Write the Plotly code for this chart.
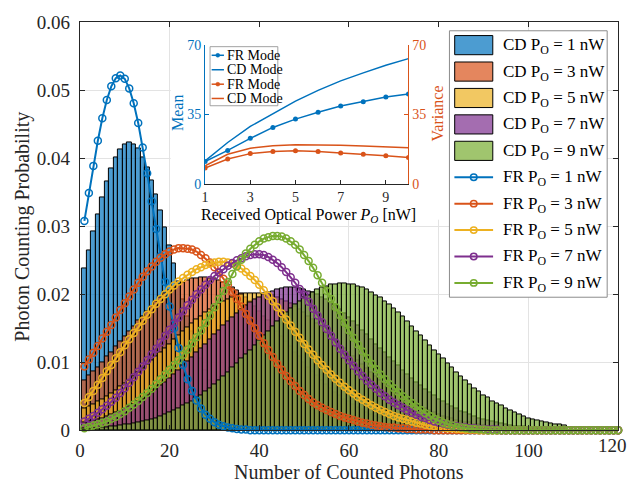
import plotly.graph_objects as go

W, H = 629, 493
FONT = "'Liberation Serif', 'Times New Roman', Times, serif"

# ---------------- data ----------------
counts = list(range(1, 121))

cd_p1 = [0.0238, 0.0265, 0.0292, 0.0318, 0.0343, 0.0366, 0.0385, 0.0401, 0.0413, 0.0420,
         0.0423, 0.0421, 0.0414, 0.0402, 0.0387, 0.0368, 0.0347, 0.0323, 0.0299, 0.0272,
         0.0245, 0.0219, 0.0193, 0.0168, 0.0145, 0.0124, 0.0105, 0.0088, 0.0073, 0.0059,
         0.0048, 0.0038, 0.0030, 0.0024, 0.0018, 0.0014, 0.0011, 0.0008, 0.0006, 0.0004,
         0.0003, 0.0002, 0.0001, 0.0001]
cd_p3 = [0.0074, 0.0080, 0.0087, 0.0093, 0.0100, 0.0108, 0.0115, 0.0123, 0.0130, 0.0138,
         0.0146, 0.0153, 0.0161, 0.0168, 0.0175, 0.0182, 0.0189, 0.0195, 0.0201, 0.0206,
         0.0210, 0.0214, 0.0218, 0.0221, 0.0223, 0.0224, 0.0225, 0.0225, 0.0224, 0.0223,
         0.0221, 0.0218, 0.0214, 0.0210, 0.0206, 0.0201, 0.0195, 0.0189, 0.0182, 0.0175,
         0.0168, 0.0161, 0.0153, 0.0146, 0.0138, 0.0130, 0.0123, 0.0115, 0.0108, 0.0100,
         0.0093, 0.0087, 0.0080, 0.0074, 0.0068, 0.0062, 0.0056, 0.0051, 0.0046, 0.0042,
         0.0038, 0.0034, 0.0030, 0.0027, 0.0024, 0.0021, 0.0019, 0.0017, 0.0014, 0.0013,
         0.0011, 0.0010, 0.0008, 0.0007, 0.0006, 0.0005, 0.0004, 0.0004, 0.0003, 0.0003,
         0.0002, 0.0002, 0.0001, 0.0001, 0.0001]
cd_p5 = [0.0032, 0.0035, 0.0038, 0.0042, 0.0046, 0.0050, 0.0054, 0.0059, 0.0064, 0.0069,
         0.0074, 0.0079, 0.0085, 0.0091, 0.0097, 0.0103, 0.0109, 0.0115, 0.0121, 0.0127,
         0.0133, 0.0139, 0.0145, 0.0151, 0.0157, 0.0163, 0.0168, 0.0173, 0.0178, 0.0182,
         0.0186, 0.0190, 0.0193, 0.0196, 0.0198, 0.0200, 0.0201, 0.0202, 0.0202, 0.0202,
         0.0201, 0.0200, 0.0198, 0.0196, 0.0193, 0.0190, 0.0186, 0.0182, 0.0178, 0.0173,
         0.0168, 0.0163, 0.0157, 0.0151, 0.0145, 0.0139, 0.0133, 0.0127, 0.0121, 0.0115,
         0.0109, 0.0103, 0.0097, 0.0091, 0.0085, 0.0079, 0.0074, 0.0069, 0.0064, 0.0059,
         0.0054, 0.0050, 0.0046, 0.0042, 0.0038, 0.0035, 0.0032, 0.0029, 0.0026, 0.0023,
         0.0021, 0.0019, 0.0017, 0.0015, 0.0013, 0.0012, 0.0011, 0.0009, 0.0008, 0.0007,
         0.0006, 0.0005, 0.0005, 0.0004, 0.0004, 0.0003, 0.0003, 0.0002, 0.0002, 0.0002,
         0.0001, 0.0001, 0.0001, 0.0001]
cd_p7 = [0.0011, 0.0013, 0.0014, 0.0016, 0.0018, 0.0020, 0.0023, 0.0026, 0.0028, 0.0032,
         0.0035, 0.0038, 0.0042, 0.0046, 0.0051, 0.0055, 0.0060, 0.0066, 0.0071, 0.0076,
         0.0082, 0.0088, 0.0095, 0.0101, 0.0107, 0.0114, 0.0121, 0.0127, 0.0134, 0.0141,
         0.0147, 0.0154, 0.0160, 0.0166, 0.0172, 0.0178, 0.0183, 0.0188, 0.0192, 0.0196,
         0.0200, 0.0203, 0.0205, 0.0207, 0.0209, 0.0210, 0.0210, 0.0210, 0.0209, 0.0207,
         0.0205, 0.0203, 0.0200, 0.0196, 0.0192, 0.0188, 0.0183, 0.0178, 0.0172, 0.0166,
         0.0160, 0.0154, 0.0147, 0.0141, 0.0134, 0.0127, 0.0121, 0.0114, 0.0107, 0.0101,
         0.0095, 0.0088, 0.0082, 0.0076, 0.0071, 0.0066, 0.0060, 0.0055, 0.0051, 0.0046,
         0.0042, 0.0038, 0.0035, 0.0032, 0.0028, 0.0026, 0.0023, 0.0020, 0.0018, 0.0016,
         0.0014, 0.0013, 0.0011, 0.0010, 0.0009, 0.0007, 0.0006, 0.0005, 0.0005, 0.0004,
         0.0003, 0.0003, 0.0002, 0.0002, 0.0002, 0.0001, 0.0001, 0.0001]
cd_p9 = [0.0002, 0.0002, 0.0003, 0.0003, 0.0004, 0.0004, 0.0005, 0.0006, 0.0007, 0.0008,
         0.0009, 0.0010, 0.0011, 0.0013, 0.0014, 0.0016, 0.0018, 0.0021, 0.0023, 0.0026,
         0.0029, 0.0032, 0.0036, 0.0039, 0.0043, 0.0048, 0.0052, 0.0057, 0.0062, 0.0068,
         0.0073, 0.0079, 0.0085, 0.0092, 0.0098, 0.0105, 0.0112, 0.0118, 0.0125, 0.0132,
         0.0139, 0.0146, 0.0153, 0.0160, 0.0167, 0.0173, 0.0179, 0.0185, 0.0190, 0.0195,
         0.0199, 0.0203, 0.0207, 0.0210, 0.0212, 0.0214, 0.0215, 0.0216, 0.0216, 0.0215,
         0.0214, 0.0212, 0.0210, 0.0207, 0.0203, 0.0199, 0.0195, 0.0190, 0.0185, 0.0179,
         0.0173, 0.0167, 0.0160, 0.0153, 0.0146, 0.0139, 0.0132, 0.0125, 0.0118, 0.0112,
         0.0105, 0.0098, 0.0092, 0.0085, 0.0079, 0.0073, 0.0068, 0.0062, 0.0057, 0.0052,
         0.0048, 0.0043, 0.0039, 0.0036, 0.0032, 0.0029, 0.0026, 0.0023, 0.0021, 0.0018,
         0.0016, 0.0014, 0.0013, 0.0011, 0.0010, 0.0009, 0.0008, 0.0007]

fr_p1 = [0.0308, 0.0349, 0.0389, 0.0426, 0.0459, 0.0486, 0.0506, 0.0518, 0.0522, 0.0517,
         0.0503, 0.0481, 0.0452, 0.0416, 0.0378, 0.0337, 0.0296, 0.0256, 0.0218, 0.0182,
         0.0150, 0.0121, 0.0096, 0.0075, 0.0058, 0.0044, 0.0032, 0.0023, 0.0017, 0.0012,
         0.0008, 0.0006, 0.0004, 0.0003, 0.0002, 0.0001, 0.0001]
fr_p3 = [0.0094, 0.0104, 0.0114, 0.0124, 0.0135, 0.0145, 0.0155, 0.0166, 0.0177, 0.0187,
         0.0197, 0.0207, 0.0217, 0.0226, 0.0234, 0.0241, 0.0248, 0.0254, 0.0259, 0.0263,
         0.0266, 0.0268, 0.0268, 0.0267, 0.0266, 0.0263, 0.0258, 0.0253, 0.0247, 0.0240,
         0.0232, 0.0223, 0.0214, 0.0203, 0.0193, 0.0182, 0.0171, 0.0161, 0.0150, 0.0139,
         0.0128, 0.0118, 0.0108, 0.0098, 0.0089, 0.0080, 0.0072, 0.0065, 0.0058, 0.0052,
         0.0046, 0.0041, 0.0037, 0.0033, 0.0030, 0.0027, 0.0024, 0.0021, 0.0019, 0.0017,
         0.0015, 0.0013, 0.0011, 0.0010, 0.0008, 0.0007, 0.0006, 0.0005, 0.0004, 0.0004,
         0.0003, 0.0003, 0.0002, 0.0002, 0.0001, 0.0001, 0.0001, 0.0001]
fr_p5 = [0.0040, 0.0049, 0.0058, 0.0067, 0.0077, 0.0087, 0.0096, 0.0106, 0.0115, 0.0125,
         0.0134, 0.0143, 0.0152, 0.0161, 0.0170, 0.0178, 0.0186, 0.0193, 0.0200, 0.0207,
         0.0213, 0.0219, 0.0224, 0.0229, 0.0233, 0.0237, 0.0240, 0.0243, 0.0245, 0.0247,
         0.0248, 0.0248, 0.0247, 0.0245, 0.0242, 0.0238, 0.0233, 0.0227, 0.0221, 0.0214,
         0.0206, 0.0198, 0.0190, 0.0181, 0.0172, 0.0163, 0.0154, 0.0145, 0.0136, 0.0127,
         0.0119, 0.0111, 0.0103, 0.0096, 0.0089, 0.0082, 0.0076, 0.0070, 0.0064, 0.0059,
         0.0054, 0.0049, 0.0045, 0.0041, 0.0037, 0.0033, 0.0030, 0.0027, 0.0024, 0.0021,
         0.0019, 0.0017, 0.0015, 0.0013, 0.0011, 0.0010, 0.0008, 0.0007, 0.0006, 0.0005,
         0.0004, 0.0003, 0.0003, 0.0002, 0.0002, 0.0001, 0.0001, 0.0001]
fr_p7 = [0.0013, 0.0017, 0.0021, 0.0026, 0.0031, 0.0036, 0.0042, 0.0048, 0.0055, 0.0062,
         0.0070, 0.0078, 0.0086, 0.0094, 0.0103, 0.0112, 0.0120, 0.0129, 0.0139, 0.0148,
         0.0157, 0.0166, 0.0175, 0.0184, 0.0192, 0.0200, 0.0207, 0.0214, 0.0221, 0.0227,
         0.0232, 0.0237, 0.0242, 0.0246, 0.0250, 0.0253, 0.0256, 0.0258, 0.0259, 0.0259,
         0.0258, 0.0255, 0.0251, 0.0246, 0.0240, 0.0233, 0.0225, 0.0217, 0.0208, 0.0199,
         0.0189, 0.0179, 0.0169, 0.0159, 0.0149, 0.0139, 0.0129, 0.0120, 0.0111, 0.0103,
         0.0095, 0.0087, 0.0080, 0.0073, 0.0067, 0.0061, 0.0055, 0.0050, 0.0045, 0.0041,
         0.0037, 0.0033, 0.0029, 0.0026, 0.0023, 0.0020, 0.0018, 0.0015, 0.0013, 0.0011,
         0.0010, 0.0008, 0.0007, 0.0006, 0.0005, 0.0004, 0.0003, 0.0003, 0.0002, 0.0002,
         0.0001, 0.0001, 0.0001]
fr_p9 = [0.0003, 0.0005, 0.0007, 0.0009, 0.0011, 0.0013, 0.0017, 0.0020, 0.0024, 0.0028,
         0.0033, 0.0038, 0.0043, 0.0049, 0.0055, 0.0061, 0.0068, 0.0075, 0.0082, 0.0089,
         0.0096, 0.0103, 0.0111, 0.0119, 0.0128, 0.0137, 0.0147, 0.0158, 0.0169, 0.0181,
         0.0193, 0.0205, 0.0218, 0.0230, 0.0241, 0.0251, 0.0260, 0.0267, 0.0273, 0.0278,
         0.0282, 0.0284, 0.0286, 0.0286, 0.0285, 0.0282, 0.0278, 0.0273, 0.0266, 0.0258,
         0.0249, 0.0239, 0.0228, 0.0217, 0.0205, 0.0193, 0.0181, 0.0169, 0.0158, 0.0147,
         0.0136, 0.0126, 0.0116, 0.0106, 0.0098, 0.0090, 0.0082, 0.0075, 0.0068, 0.0062,
         0.0056, 0.0050, 0.0045, 0.0040, 0.0035, 0.0030, 0.0025, 0.0021, 0.0017, 0.0014,
         0.0011, 0.0009, 0.0007, 0.0005, 0.0004, 0.0003, 0.0002, 0.0002, 0.0001, 0.0001]

inset_power = [1, 2, 3, 4, 5, 6, 7, 8, 9, 10]
fr_mean = [11.3, 16.9, 23.0, 28.5, 32.7, 36.2, 39.3, 41.5, 43.8, 45.4]
cd_mean = [11.6, 20.9, 29.0, 35.4, 41.8, 47.2, 52.0, 56.0, 59.9, 63.2]
fr_var = [8.0, 12.6, 15.3, 16.4, 16.7, 16.4, 15.6, 15.0, 14.2, 13.4]
cd_var = [9.2, 15.0, 18.0, 19.3, 19.8, 19.8, 19.5, 19.2, 18.7, 18.2]

power_labels = ["1", "3", "5", "7", "9"]
x_ticks = [0, 20, 40, 60, 80, 100, 120]
x_ticktext = ["0", "20", "40", "60", "80", "100", ""]
last_x_label = "120"
y_ticks = [0, 0.01, 0.02, 0.03, 0.04, 0.05, 0.06]
y_ticktext = ["0", "0.01", "0.02", "0.03", "0.04", "0.05", "0.06"]
inset_x_ticks = [1, 3, 5, 7, 9]
inset_y_ticks = [0, 35, 70]

cd_series = [cd_p1, cd_p3, cd_p5, cd_p7, cd_p9]
fr_series = [fr_p1, fr_p3, fr_p5, fr_p7, fr_p9]

# ---------------- styling ----------------
line_colors = ["#0072BD", "#D95319", "#EDB120", "#7E2F8E", "#77AC30"]
bar_colors = ["rgba(0,114,189,0.7)", "rgba(217,83,25,0.7)", "rgba(237,177,32,0.7)",
              "rgba(126,47,142,0.7)", "rgba(119,172,48,0.7)"]
AX = "#262626"
BLUE, ORANGE = "#0072BD", "#D95319"


def X(px):
    return px / W


def Y(py):
    return 1 - py / H


def padded(vals):
    return vals + [0.0] * (len(counts) - len(vals))


fig = go.Figure()

for vals, col in zip(cd_series, bar_colors):
    fig.add_trace(go.Bar(x=counts[:len(vals)], y=vals, width=1,
                         marker=dict(color=col, line=dict(color="black", width=1)),
                         xaxis="x", yaxis="y", showlegend=False, hoverinfo="skip"))

for vals, col in zip(fr_series, line_colors):
    fig.add_trace(go.Scatter(x=counts, y=padded(vals), mode="lines+markers",
                             line=dict(color=col, width=2),
                             marker=dict(symbol="circle-open", size=7, color=col,
                                         line=dict(width=1.5)),
                             cliponaxis=False, xaxis="x", yaxis="y",
                             showlegend=False, hoverinfo="skip"))

# white cover panel behind the inset
fig.add_trace(go.Scatter(x=[None], y=[None], xaxis="x2", yaxis="y2",
                         showlegend=False, hoverinfo="skip"))

# inset
fig.add_trace(go.Scatter(x=inset_power, y=fr_mean, mode="lines+markers",
                         line=dict(color=BLUE, width=1.5), marker=dict(size=5, color=BLUE),
                         xaxis="x3", yaxis="y3", showlegend=False, hoverinfo="skip"))
fig.add_trace(go.Scatter(x=inset_power, y=cd_mean, mode="lines",
                         line=dict(color=BLUE, width=1.5),
                         xaxis="x3", yaxis="y3", showlegend=False, hoverinfo="skip"))
fig.add_trace(go.Scatter(x=inset_power, y=fr_var, mode="lines+markers",
                         line=dict(color=ORANGE, width=1.5), marker=dict(size=5, color=ORANGE),
                         xaxis="x3", yaxis="y4", showlegend=False, hoverinfo="skip"))
fig.add_trace(go.Scatter(x=inset_power, y=cd_var, mode="lines",
                         line=dict(color=ORANGE, width=1.5),
                         xaxis="x3", yaxis="y4", showlegend=False, hoverinfo="skip"))

tickfont = dict(family=FONT, size=19, color=AX)

fig.update_layout(
    width=W, height=H, margin=dict(l=0, r=0, t=0, b=0),
    paper_bgcolor="white", plot_bgcolor="white",
    barmode="overlay", bargap=0, showlegend=False,
    font=dict(family=FONT, color=AX),
    xaxis=dict(domain=[X(75.5), X(618)], anchor="y", range=[0, 120], tickvals=x_ticks,
               ticktext=x_ticktext,
               ticks="inside", ticklen=5, tickcolor=AX, showline=True, linecolor=AX,
               linewidth=1, mirror="ticks", showgrid=True, gridcolor="#E3E3E3",
               zeroline=False, tickfont=tickfont, ticklabelstandoff=3),
    yaxis=dict(domain=[Y(439), Y(13)], anchor="x", range=[0, 0.06], tickvals=y_ticks,
               ticktext=y_ticktext, ticks="inside", ticklen=5, tickcolor=AX, showline=True,
               linecolor=AX, linewidth=1, mirror="ticks", showgrid=True,
               gridcolor="#E3E3E3", zeroline=False, tickfont=tickfont, ticklabelstandoff=5),
    xaxis2=dict(domain=[X(167), X(448)], anchor="y2", range=[0, 1], visible=False),
    yaxis2=dict(domain=[Y(219), Y(18)], anchor="x2", range=[0, 1], visible=False),
    xaxis3=dict(domain=[X(201.7), X(406.7)], anchor="y3", range=[1, 10],
                tickvals=inset_x_ticks, ticktext=power_labels, ticks="inside", ticklen=4,
                tickcolor=AX, showline=True, linecolor=AX, linewidth=1, showgrid=False,
                zeroline=False, tickfont=dict(family=FONT, size=14, color=AX),
                ticklabelstandoff=0),
    yaxis3=dict(domain=[Y(181.7), Y(36.7)], anchor="x3", range=[0, 70],
                tickvals=inset_y_ticks, ticks="inside", ticklen=4, tickcolor=BLUE,
                showline=True, linecolor=BLUE, linewidth=1, showgrid=False, zeroline=False,
                tickfont=dict(family=FONT, size=14, color=BLUE)),
    yaxis4=dict(overlaying="y3", side="right", anchor="x3", range=[0, 70],
                tickvals=inset_y_ticks, ticks="inside", ticklen=4, tickcolor=ORANGE,
                showline=True, linecolor=ORANGE, linewidth=1, showgrid=False, zeroline=False,
                tickfont=dict(family=FONT, size=14, color=ORANGE)),
)

shapes = []
annotations = []

# last x tick label (kept inside the page)
annotations.append(dict(x=X(629), y=Y(455), xref="paper", yref="paper", text=last_x_label,
                        showarrow=False, font=tickfont, xanchor="right", yanchor="middle"))

# axis titles
annotations.append(dict(x=X(346.7), y=Y(482.5), xref="paper", yref="paper",
                        text="Number of Counted Photons", showarrow=False,
                        font=dict(family=FONT, size=20, color=AX),
                        xanchor="center", yanchor="middle"))
annotations.append(dict(x=X(17.5), y=Y(226), xref="paper", yref="paper",
                        text="Photon Counting Probability", showarrow=False, textangle=-90,
                        font=dict(family=FONT, size=20, color=AX),
                        xanchor="center", yanchor="middle"))
annotations.append(dict(x=X(174), y=Y(108), xref="paper", yref="paper", text="Mean",
                        showarrow=False, textangle=-90,
                        font=dict(family=FONT, size=16, color=BLUE),
                        xanchor="center", yanchor="middle"))
annotations.append(dict(x=X(435.5), y=Y(108), xref="paper", yref="paper", text="Variance",
                        showarrow=False, textangle=-90,
                        font=dict(family=FONT, size=16, color=ORANGE),
                        xanchor="center", yanchor="middle"))
annotations.append(dict(x=X(306), y=Y(215), xref="paper", yref="paper",
                        text="Received Optical Power <i>P<sub>O</sub></i> [nW]",
                        showarrow=False, font=dict(family=FONT, size=16, color="black"),
                        xanchor="center", yanchor="middle"))

# main legend (drawn by hand to match patch sizes)
shapes.append(dict(type="rect", xref="paper", yref="paper", x0=X(448), x1=X(607),
                   y0=Y(300), y1=Y(21.7), fillcolor="white",
                   line=dict(color="#8C8C8C", width=1), layer="above"))
row_y = [36.7 + 27.6 * k for k in range(10)]
for k, (p, bc) in enumerate(zip(power_labels, bar_colors)):
    cy = row_y[k]
    shapes.append(dict(type="rect", xref="paper", yref="paper", x0=X(453.3), x1=X(491.7),
                       y0=Y(cy + 10), y1=Y(cy - 10), fillcolor=bc,
                       line=dict(color="black", width=1), layer="above"))
    annotations.append(dict(x=X(500), y=Y(cy + 1), xref="paper", yref="paper",
                            text=f"CD P<sub>O</sub> = {p} nW", showarrow=False,
                            font=dict(family=FONT, size=17, color="black"),
                            xanchor="left", yanchor="middle"))
for k, (p, lc) in enumerate(zip(power_labels, line_colors)):
    cy = row_y[k + 5]
    shapes.append(dict(type="line", xref="paper", yref="paper", x0=X(453), x1=X(492),
                       y0=Y(cy), y1=Y(cy), line=dict(color=lc, width=2), layer="above"))
    shapes.append(dict(type="circle", xref="paper", yref="paper", x0=X(469.2), x1=X(475.8),
                       y0=Y(cy + 3.3), y1=Y(cy - 3.3), line=dict(color=lc, width=1.5),
                       layer="above"))
    annotations.append(dict(x=X(500), y=Y(cy + 1), xref="paper", yref="paper",
                            text=f"FR P<sub>O</sub> = {p} nW", showarrow=False,
                            font=dict(family=FONT, size=17, color="black"),
                            xanchor="left", yanchor="middle"))

# inset legend
shapes.append(dict(type="rect", xref="paper", yref="paper", x0=X(206.7), x1=X(275),
                   y0=Y(100), y1=Y(38.3), fillcolor="white",
                   line=dict(color="#8C8C8C", width=0.8), layer="above"))
inset_rows = [("FR Mode", BLUE, True), ("CD Mode", BLUE, False),
              ("FR Mode", ORANGE, True), ("CD Mode", ORANGE, False)]
inset_row_y = [47.3, 62.4, 77.5, 92.4]
for (label, col, dot), cy in zip(inset_rows, inset_row_y):
    shapes.append(dict(type="line", xref="paper", yref="paper", x0=X(208.3), x1=X(220.7),
                       y0=Y(cy), y1=Y(cy), line=dict(color=col, width=1.5), layer="above"))
    if dot:
        shapes.append(dict(type="circle", xref="paper", yref="paper", x0=X(212.5),
                           x1=X(216.5), y0=Y(cy + 2), y1=Y(cy - 2), fillcolor=col,
                           line=dict(color=col, width=0.5), layer="above"))
    annotations.append(dict(x=X(222), y=Y(cy), xref="paper", yref="paper", text=label,
                            showarrow=False, font=dict(family=FONT, size=14, color="black"),
                            xanchor="left", yanchor="middle"))

fig.update_layout(shapes=shapes, annotations=annotations)
fig.write_html("out.html")
